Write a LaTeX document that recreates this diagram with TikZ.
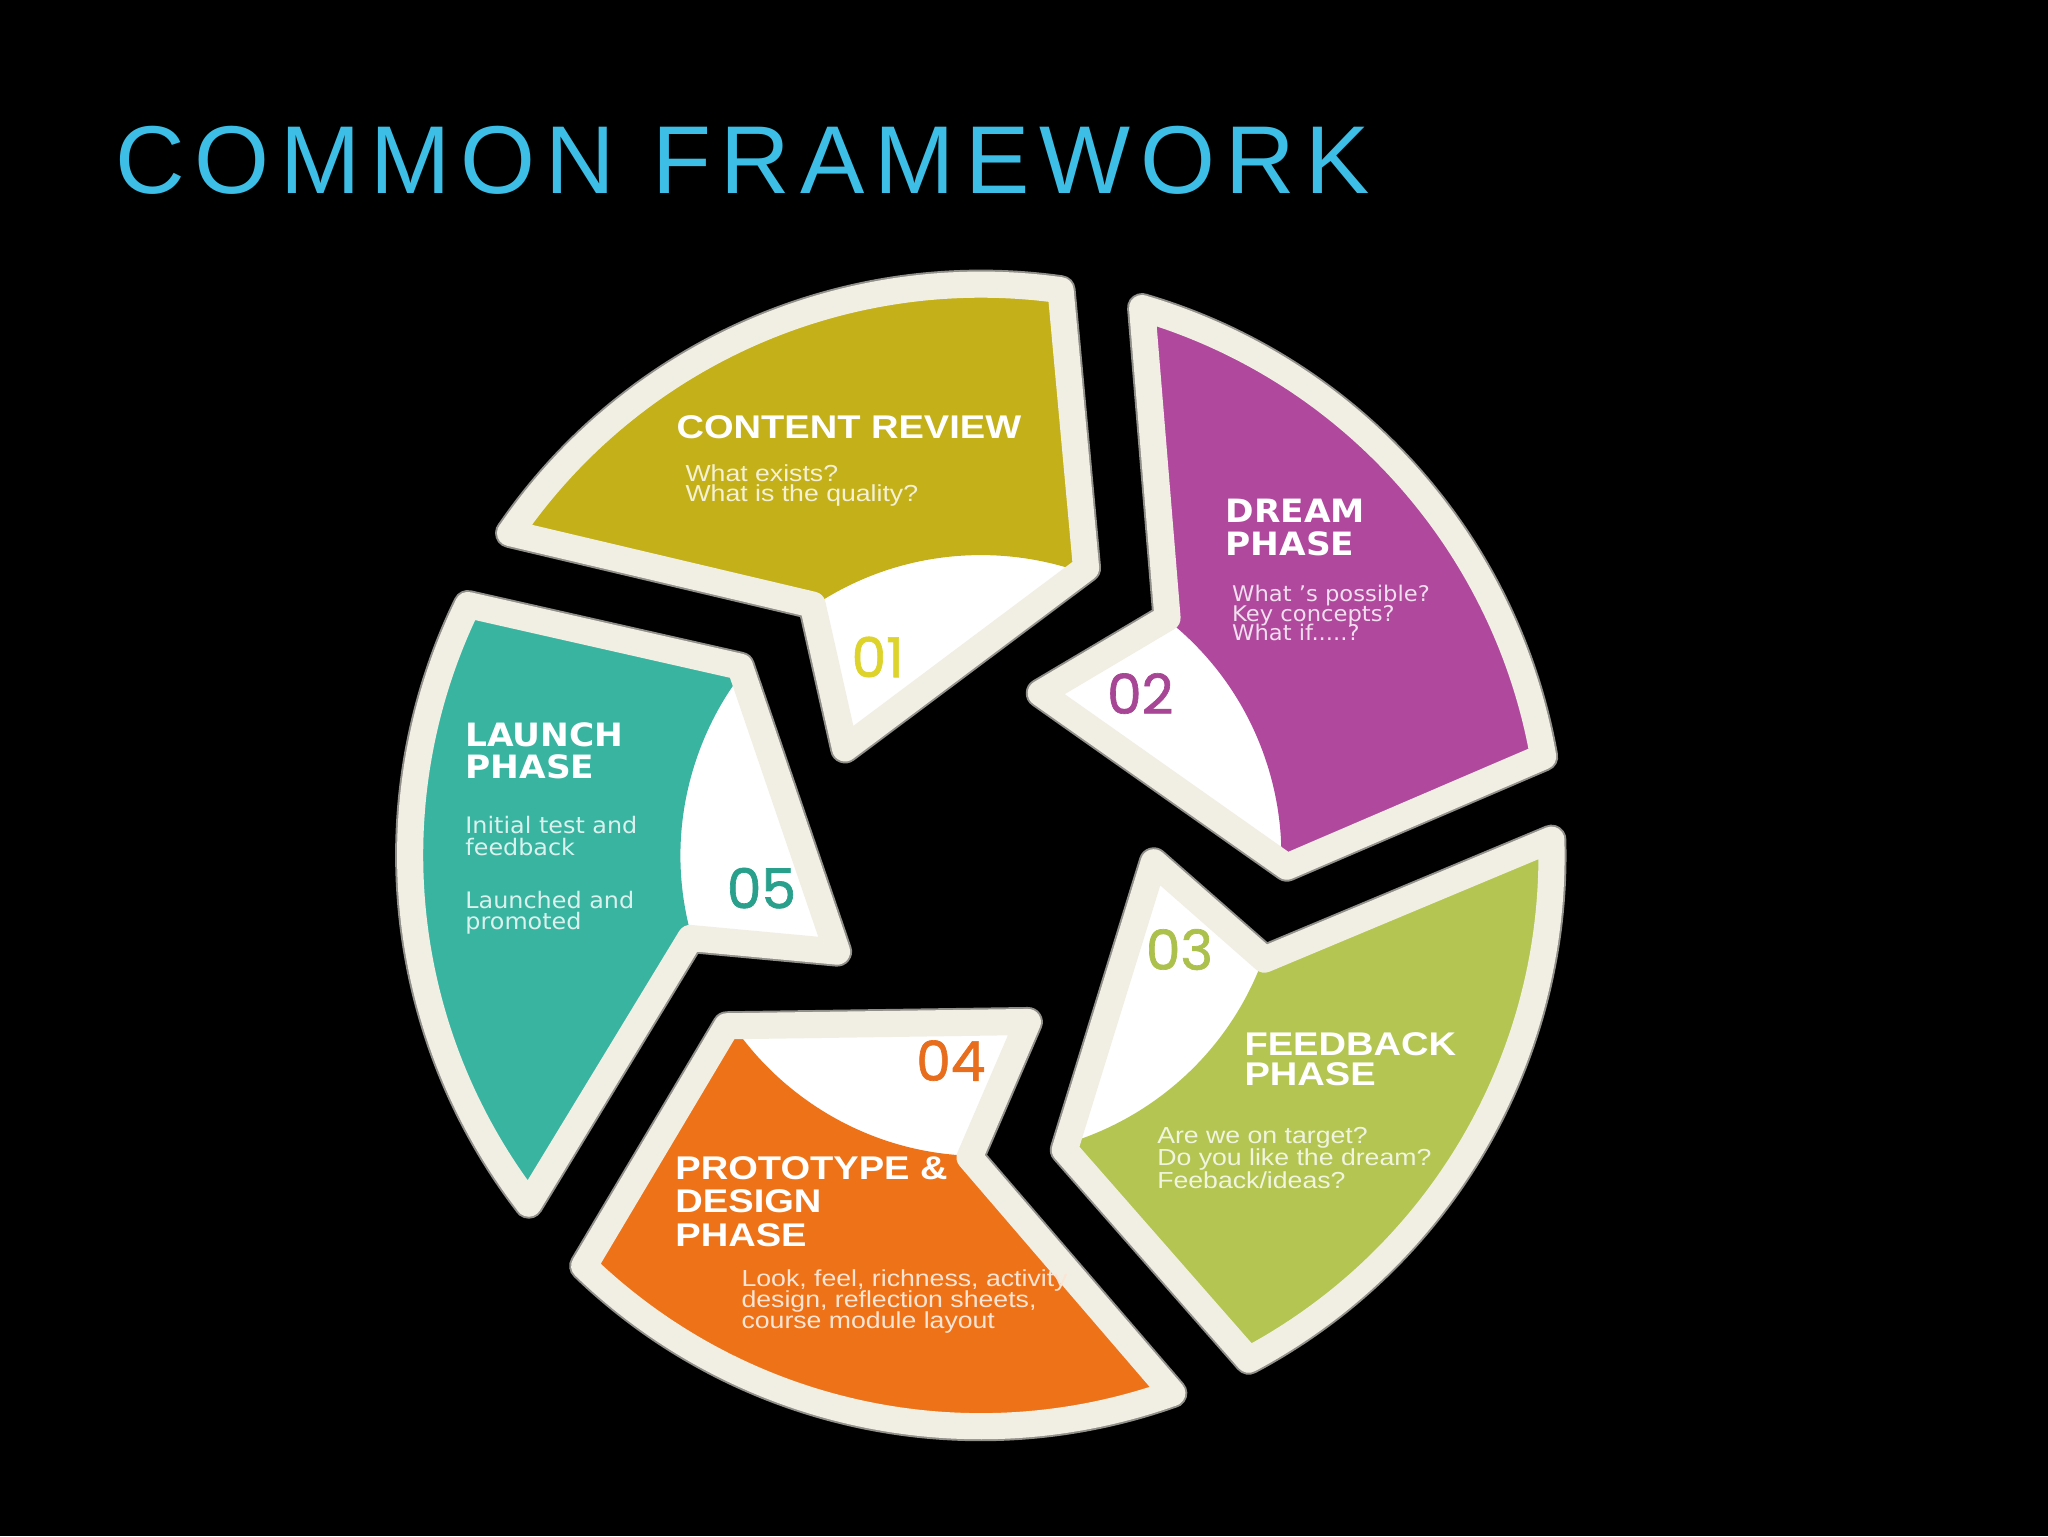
\documentclass[tikz,border=0pt]{standalone}
\usepackage{fontspec}
\setmainfont{Liberation Sans}
\newfontfamily\titlefont{Liberation Sans}[LetterSpace=10.4]
\newfontfamily\headfont{Liberation Sans}[FakeStretch=1.16]
\newfontfamily\bodyfont{Liberation Sans}[FakeStretch=1.15]
\newfontfamily\wideheadfont{DejaVu Sans}[FakeStretch=1.07]
\newfontfamily\widebodyfont{DejaVu Sans}[FakeStretch=1.05]
\newfontfamily\numfont{Poppins}[FakeBold=1.2]
\usetikzlibrary{positioning}

\definecolor{crolive}{HTML}{C4B018}
\definecolor{drplum}{HTML}{B0489E}
\definecolor{fbleaf}{HTML}{B4C552}
\definecolor{pdorange}{HTML}{EE7218}
\definecolor{lpteal}{HTML}{39B4A0}
\definecolor{framecream}{HTML}{F1EFE4}
\definecolor{titleblue}{HTML}{3CBEE6}
\definecolor{numolive}{HTML}{DDD32A}
\definecolor{numplum}{HTML}{A84696}
\definecolor{numleaf}{HTML}{ACC04C}
\definecolor{numorange}{HTML}{E86E1E}
\definecolor{numteal}{HTML}{28A08C}

% one shutter blade, drawn for the top segment around the wheel centre
\newcommand{\bladepath}{(-360.5,246.9) -- (-128.8,192.1) -- (-104,82) -- (80.5,220.1) -- (61,432.8) arc[start angle=82, end angle=145.6, radius=437] -- cycle}
\newcommand{\tightlines}{\lineskiplimit-20pt\relax}

\begin{document}
\begin{tikzpicture}[x=0.2mm, y=0.2mm,
  blade/.style={draw=framecream, line width=4mm, line join=round},
  bladeshade/.style={draw=black!40!framecream, line width=4.6mm, line join=round},
  head/.style={anchor=base west, inner sep=0, align=left, text=white,
    font=\headfont\bfseries\fontsize{14.3}{14}\selectfont\tightlines},
  widehead/.style={anchor=base west, inner sep=0, align=left, text=white,
    font=\wideheadfont\bfseries\fontsize{14}{14}\selectfont\tightlines},
  body/.style={anchor=base west, inner sep=0, align=left,
    font=\bodyfont\fontsize{10.1}{9.2}\selectfont\tightlines},
  widebody/.style={anchor=base west, inner sep=0, align=left,
    font=\widebodyfont\fontsize{9.7}{9.2}\selectfont\tightlines},
  num/.style={inner sep=0, font=\numfont\fontsize{24}{24}\selectfont}]
% Background
\fill[black] (0,0) rectangle (1568,1176);

% Title
\node[anchor=base west, inner sep=0, text=titleblue,
  font=\titlefont\fontsize{42}{42}\selectfont] (title) at (88,1028) {COMMON FRAMEWORK};

% Blades of the wheel
\foreach \k/\col in {0/crolive, 1/drplum, 2/fbleaf, 3/pdorange, 4/lpteal} {
  \begin{scope}[shift={(751,521)}, rotate=-72*\k]
    \draw[bladeshade] \bladepath;
    \fill[white] \bladepath;
    \begin{scope}
      \clip \bladepath;
      \fill[\col, even odd rule] (0,0) circle[radius=520] (0,0) circle[radius=230];
    \end{scope}
    \draw[blade] \bladepath;
  \end{scope}
}

% 01 Content review (multi-line nodes sit on their last baseline)
\node[head] (crhead) at (517.6,840.5) {CONTENT REVIEW};
\node[body, text=white!82!crolive, font=\bodyfont\fontsize{10.1}{8.7}\selectfont\tightlines]
  (crtext) at (524.5,792) {What exists?\\What is the quality?};
\node[num, text=numolive] (num01) at (672,673) {01};

% 02 Dream phase
\node[widehead] (drhead) at (938,751) {DREAM\\PHASE};
\node[widebody, text=white!82!drplum, font=\widebodyfont\fontsize{9.4}{8.5}\selectfont\tightlines]
  (drtext) at (943,685.3) {What ’s possible?\\Key concepts?\\What if.....?};
\node[num, text=numplum] (num02) at (873,645) {02};

% 03 Feedback phase
\node[head, font=\headfont\bfseries\fontsize{14.3}{13.1}\selectfont\tightlines]
  (fbhead) at (952.5,345.2) {FEEDBACK\\PHASE};
\node[body, text=white!82!fbleaf, font=\bodyfont\fontsize{10.1}{9.8}\selectfont\tightlines]
  (fbtext) at (885.7,266.1) {Are we on target?\\Do you like the dream?\\Feeback/ideas?};
\node[num, text=numleaf] (num03) at (903,449) {03};

% 04 Prototype & design phase
\node[head, font=\headfont\bfseries\fontsize{14.3}{14.5}\selectfont\tightlines]
  (pdhead) at (516.8,222) {PROTOTYPE \&\\DESIGN\\PHASE};
\node[body, text=white!82!pdorange]
  (pdtext) at (567.4,159) {Look, feel, richness, activity\\design, reflection sheets,\\course module layout};
\node[num, text=numorange] (num04) at (728,364) {04};

% 05 Launch phase
\node[widehead] (lphead) at (356,580) {LAUNCH\\PHASE};
\node[widebody, text=white!82!lpteal, font=\widebodyfont\fontsize{9.9}{9.4}\selectfont\tightlines]
  (lptext) at (356,464) {Initial test and\\feedback\\[13.7pt]Launched and\\promoted};
\node[num, text=numteal] (num05) at (583,496) {05};
\end{tikzpicture}
\end{document}
